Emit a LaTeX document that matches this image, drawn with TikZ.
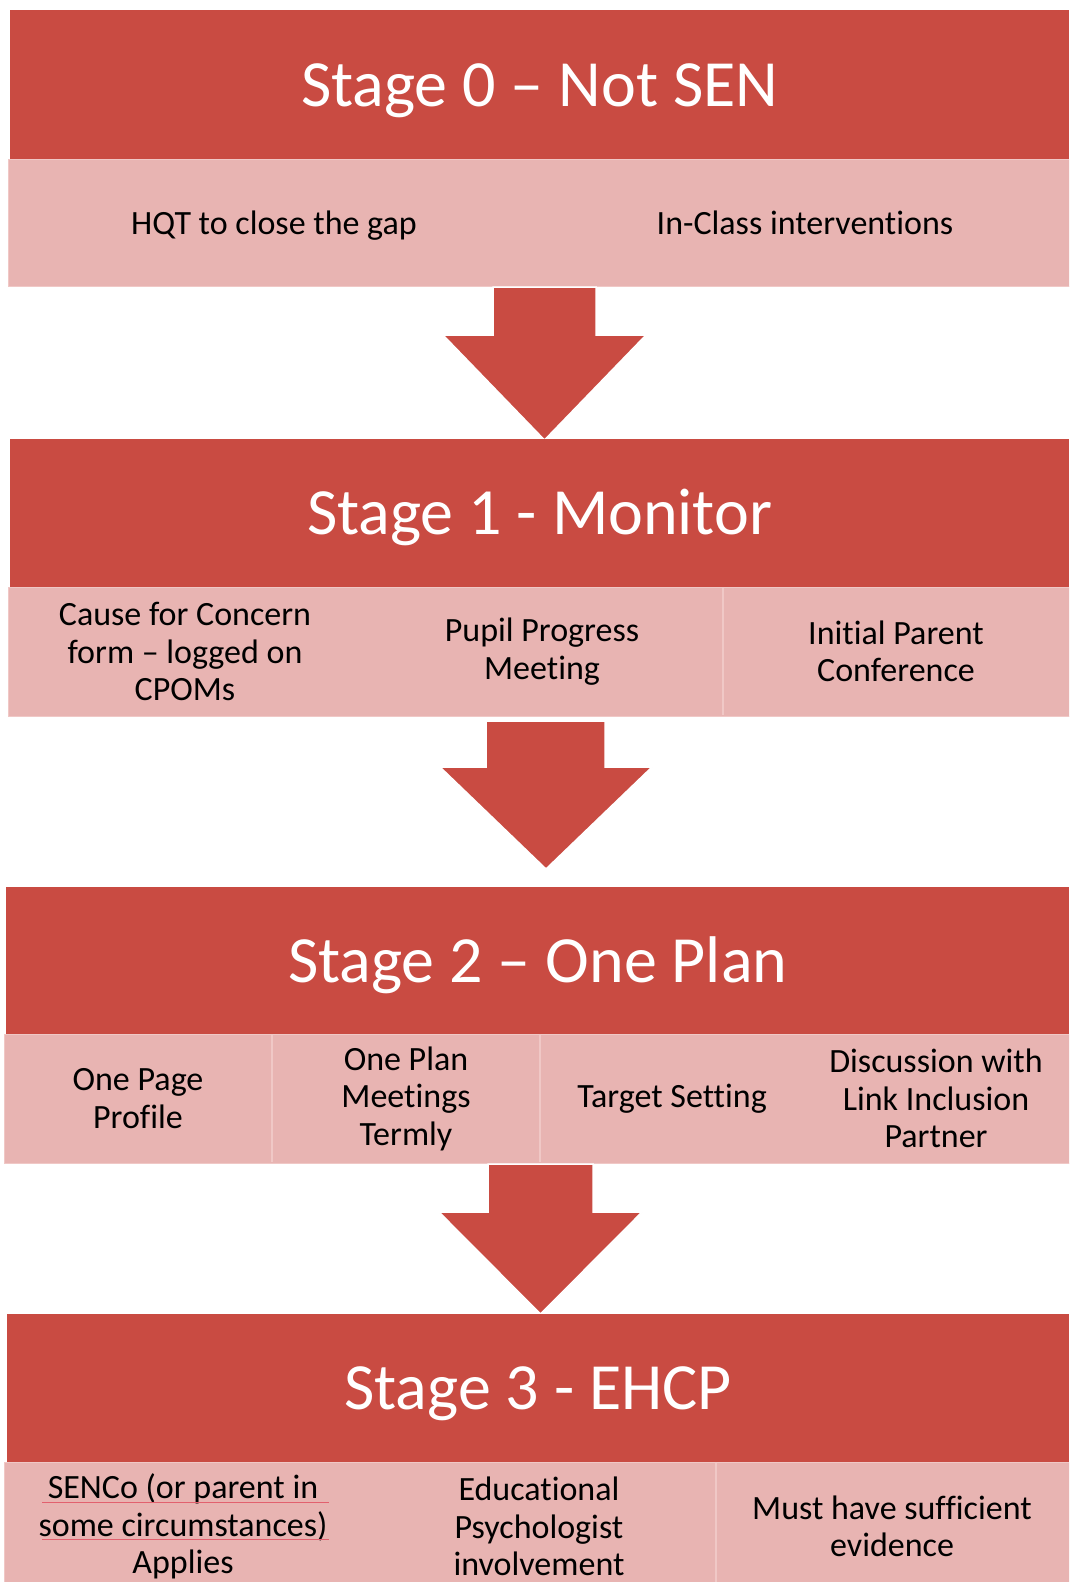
\documentclass[tikz,border=0pt]{standalone}
\usepackage{fontspec}
\setmainfont{Carlito}[Ligatures=NoCommon]
\definecolor{hdrc}{RGB}{201,75,66}
\definecolor{bandc}{RGB}{232,180,178}
\definecolor{edgec}{RGB}{240,200,198}
\definecolor{spellc}{RGB}{226,96,110}
\begin{document}
\begin{tikzpicture}[x=1pt,y=-1pt,
  hdrbox/.style={fill=hdrc, text=white, inner sep=0pt, anchor=north west,
    font=\fontsize{66}{74}\selectfont, text height=43pt, text depth=0pt},
  bandbox/.style={fill=bandc, draw=edgec, line width=1.2pt, inner sep=0pt, anchor=north west},
  cell/.style={align=center, inner sep=0pt, text=black,
    font=\fontsize{34}{37.5}\selectfont},
  divline/.style={draw=edgec, line width=1.2pt},
  blockarrow/.style={fill=hdrc, draw=white, line width=1.5pt, line join=miter},
  spell/.style={draw=spellc, line width=1pt}]
\useasboundingbox (0,0) rectangle (1069,1582);
\clip (0,0) rectangle (1069,1582);

% ---------------- Stage 0
\node[hdrbox, minimum width=1059pt, minimum height=149pt] (h0) at (10,10) {Stage 0 – Not SEN};
\node[bandbox, minimum width=1063pt, minimum height=127pt] (b0) at (8,159) {};
\node[cell] (c01) at (274,225.5) {HQT to close the gap};
\node[cell] (c02) at (805,222.5) {In-Class interventions};

% arrow 0 -> 1
\filldraw[blockarrow] (493,287) -- (596,287) -- (596,335) -- (646,335) -- (544.5,440)
  -- (443,335) -- (493,335) -- cycle;

% ---------------- Stage 1
\node[hdrbox, minimum width=1059pt, minimum height=148pt] (h1) at (10,439) {Stage 1 - Monitor};
\node[bandbox, minimum width=1063pt, minimum height=129pt] (b1) at (8,587) {};
\draw[divline] (723,588) -- (723,715);
\node[cell] (c11) at (185,651.5) {Cause for Concern\\form – logged on\\CPOMs};
\node[cell] (c12) at (542,651.5) {Pupil Progress\\Meeting};
\node[cell] (c13) at (896,651.5) {Initial Parent\\Conference};

% arrow 1 -> 2
\filldraw[blockarrow] (486,721) -- (605,721) -- (605,767) -- (652,767) -- (546,869)
  -- (440,767) -- (486,767) -- cycle;

% ---------------- Stage 2
\node[hdrbox, minimum width=1063pt, minimum height=147pt] (h2) at (6,887) {Stage 2 – One Plan};
\node[bandbox, minimum width=1067pt, minimum height=129pt] (b2) at (4,1034) {};
\draw[divline] (272,1035) -- (272,1162);
\draw[divline] (540,1035) -- (540,1162);
\node[cell] (c21) at (138,1098.5) {One Page\\Profile};
\node[cell] (c22) at (406,1098.5) {One Plan\\Meetings\\Termly};
\node[cell] (c23) at (672,1098.5) {Target Setting};
\node[cell] (c24) at (936,1098.5) {Discussion with\\Link Inclusion\\Partner};

% arrow 2 -> 3
\filldraw[blockarrow] (488,1164) -- (593,1164) -- (593,1212) -- (642,1212) -- (540.5,1314)
  -- (439,1212) -- (488,1212) -- cycle;

% ---------------- Stage 3
\node[hdrbox, minimum width=1062pt, minimum height=148pt] (h3) at (7,1314) {Stage 3 - EHCP};
\node[bandbox, minimum width=1067pt, minimum height=129pt] (b3) at (4,1462) {};
\draw[divline] (716,1463) -- (716,1590);
\node[cell] (c31) at (183,1526.5) {SENCo (or parent in\\some circumstances)\\Applies};
\node[cell] (c32) at (539,1526.5) {Educational\\Psychologist\\involvement};
\node[cell] (c33) at (892,1526.5) {Must have sufficient\\evidence};
\draw[spell] (42,1502) -- (329,1502);
\draw[spell] (42,1539.5) -- (329,1539.5);
\end{tikzpicture}
\end{document}
